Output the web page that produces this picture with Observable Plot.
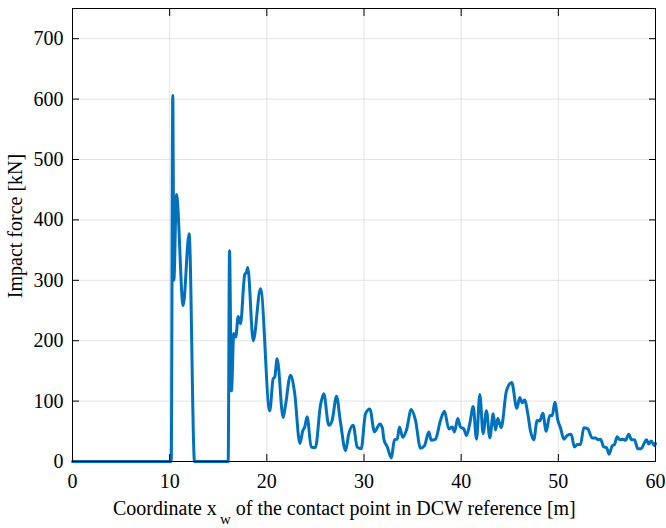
<!DOCTYPE html>
<html><head><meta charset="utf-8">
<script src="https://cdn.jsdelivr.net/npm/d3@7"></script>
<script src="https://cdn.jsdelivr.net/npm/@observablehq/plot@0.6"></script>
<style>body{margin:0;background:#fff} #chart{width:666px;height:528px} svg text{font-family:'Liberation Serif','Times New Roman',serif !important;}</style>
</head><body><div id="chart"></div>
<script>
const xw = [0,10.16,10.32,10.43,10.70,11.39,12.0,12.56,16.02,16.16,16.36,16.6,16.8,17.05,17.29,17.73,17.9,18.04,18.6,19.35,
20.3,20.65,20.82,21.06,21.68,21.92,22.43,22.85,23.4,23.7,23.9,24.15,24.56,25.0,25.52,25.86,26.38,26.72,27.17,27.58,
28.1,28.44,28.89,29.3,29.71,30.15,30.6,31.08,31.63,31.9,32.04,32.4,32.8,33.14,33.42,33.65,33.99,34.37,34.86,35.3,
35.81,36.22,36.67,36.92,37.36,37.87,38.28,38.73,39.08,39.31,39.65,39.93,40.27,40.55,40.89,41.24,41.58,41.92,42.26,42.6,
42.95,43.3,43.53,43.77,44.12,44.66,45.2,45.73,46.03,46.28,46.52,46.86,47.13,47.47,47.82,48.09,48.4,48.75,49.12,49.37,
49.64,49.95,50.22,50.57,50.91,51.32,51.66,51.94,52.28,52.62,53.03,53.48,53.82,54.06,54.34,54.68,54.96,55.23,55.54,55.78,
56.05,56.33,56.67,56.91,57.25,57.53,57.84,58.18,58.53,58.8,59.07,59.31,59.56,59.9,60];
const force = [0,0,606,300,442,258,377,0,0,349,117,212,206,240,228,310,313,321,200,286,
84,137,140,170,73,93,143,115,30,51,57,74,24,23,93,112,60,68,108,65,
18,46,60,24,21,79,87,49,62,55,37,24,6,36,37,57,40,52,86,68,
22,26,49,35,37,68,83,54,57,49,71,57,54,43,63,91,37,111,46,84,
39,79,52,71,56,117,131,88,106,97,102,79,51,36,68,67,80,50,76,76,
98,68,56,37,43,45,24,28,28,56,54,39,39,36,37,24,23,12,26,28,
41,36,37,35,45,36,36,21,21,29,36,29,34,26,30];
const xTicks = [0,10,20,30,40,50,60];
const yTicks = [0,100,200,300,400,500,600,700];
const xLabelMain = "Coordinate x";
const xLabelSub = "w";
const xLabelRest = " of the contact point in DCW reference [m]";
const yLabel = "Impact force [kN]";

const data = xw.map((x, i) => ({x, y: force[i]}));
const font = "'Liberation Serif', 'Times New Roman', serif";
const noText = () => "";

const plot = Plot.plot({
  width: 666, height: 528,
  marginLeft: 72, marginRight: 11, marginTop: 8, marginBottom: 67,
  style: {fontFamily: font, fontSize: "20px", background: "white", color: "black"},
  x: {domain: [0, 60], ticks: xTicks, label: null},
  y: {domain: [0, 750], ticks: yTicks, label: null},
  marks: [
    Plot.gridX(xTicks, {stroke: "#e3e3e3", strokeOpacity: 1}),
    Plot.gridY(yTicks, {stroke: "#e3e3e3", strokeOpacity: 1}),
    Plot.line(data, {x: "x", y: "y", stroke: "#0072BD", strokeWidth: 3, strokeLinejoin: "round", curve: "monotone-x"}),
    Plot.frame({stroke: "black", strokeWidth: 1}),
    Plot.axisX(xTicks, {tickSize: 7, dy: -7, fill: "none", tickFormat: noText, label: null, stroke: "black"}),
    Plot.axisX(xTicks, {anchor: "top", tickSize: 7, dy: 7, fill: "none", tickFormat: noText, label: null, stroke: "black"}),
    Plot.axisY(yTicks, {tickSize: 7, dx: 7, fill: "none", tickFormat: noText, label: null, stroke: "black"}),
    Plot.axisY(yTicks, {anchor: "right", tickSize: 7, dx: -7, fill: "none", tickFormat: noText, label: null, stroke: "black"}),
    Plot.axisX(xTicks, {tickSize: 0, tickPadding: 12, label: null, fontSize: 20, fontFamily: font, fill: "black"}),
    Plot.axisY(yTicks, {tickSize: 0, tickPadding: 9, label: null, fontSize: 20, fontFamily: font, fill: "black"})
  ]
});

const svg = d3.select(plot);
const xl = svg.append("text")
  .attr("x", 113).attr("y", 515)
  .attr("text-anchor", "start")
  .attr("font-family", font).attr("font-size", 20).attr("fill", "black");
xl.append("tspan").text(xLabelMain);
xl.append("tspan").attr("dx", 3).attr("dy", 9).attr("font-size", 15).text(xLabelSub);
xl.append("tspan").attr("dy", -9).text(xLabelRest);

svg.append("text")
  .attr("transform", "translate(22,226) rotate(-90)")
  .attr("text-anchor", "middle")
  .attr("font-family", font).attr("font-size", 20).attr("fill", "black")
  .text(yLabel);

document.getElementById("chart").appendChild(plot);
</script>
</body></html>
